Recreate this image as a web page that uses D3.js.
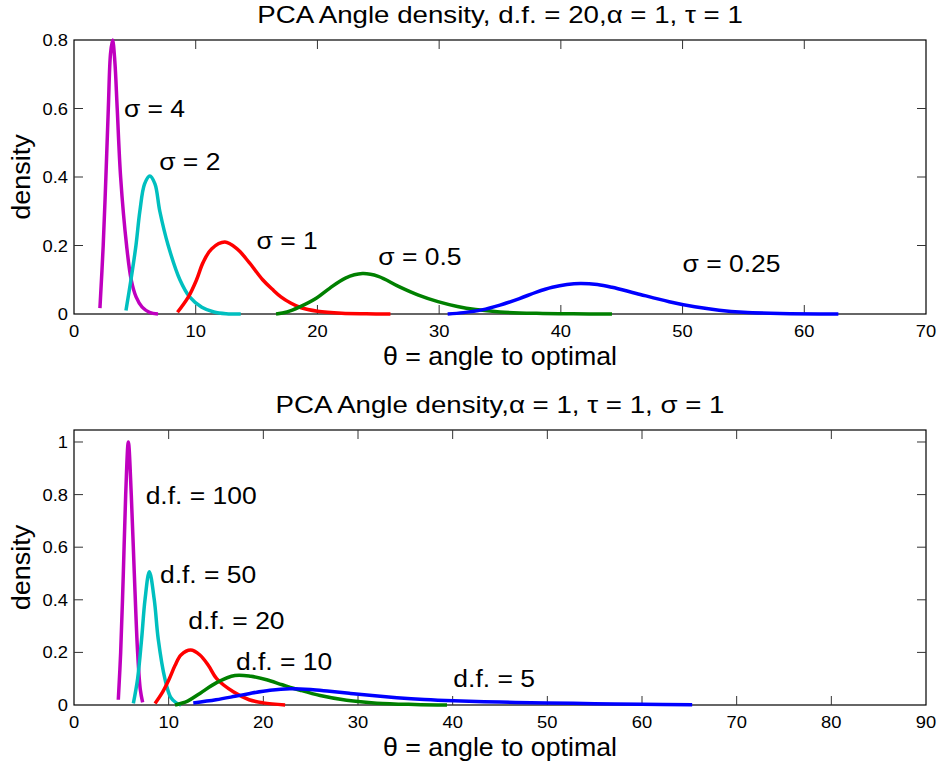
<!DOCTYPE html>
<html lang="en">
<meta charset="utf-8">
<head>
    <title>PCA Angle density</title>
    <script src="https://d3js.org/d3.v7.min.js"></script>
    <style>
        body { margin: 0; background: #fff; }
        text { font-family: "Liberation Sans", Arial, sans-serif; fill: #000; }
    </style>
</head>
<body>
<div id="chart"></div>
<script>
    // ---- data: [theta, density] ----
    // top panel: d.f. = 20, sigma varies
    let sigma4 = [[2.13,0.017],[2.4,0.2],[2.62,0.4],[2.82,0.6],[3.0,0.76],[3.17,0.8],[3.35,0.74],[3.55,0.6],[3.83,0.4],[4.32,0.2],[4.7,0.1],[5.1,0.05],[5.6,0.02],[6.2,0.005],[6.9,0.0]];
    let sigma2 = [[4.27,0.01],[4.68,0.1],[5.09,0.2],[5.41,0.3],[5.8,0.38],[6.23,0.403],[6.65,0.38],[7.05,0.3],[7.74,0.2],[8.7,0.1],[9.5,0.05],[10.5,0.02],[11.5,0.006],[12.5,0.001],[13.7,0]];
    let sigma1 = [[8.5,0.005],[9.4,0.05],[10.07,0.1],[10.6,0.15],[11.3,0.19],[12.4,0.21],[13.4,0.19],[14.4,0.15],[15.5,0.1],[16.3,0.072],[17.0,0.05],[17.8,0.032],[18.6,0.019],[20,0.008],[22,0.002],[24,0.0005],[26,0]];
    let sigma05 = [[16.6,0],[17.5,0.006],[18.5,0.02],[19.9,0.046],[21.0,0.075],[22.3,0.105],[23.7,0.118],[25.0,0.11],[26.7,0.08],[28.3,0.055],[29.9,0.036],[31.5,0.022],[33.0,0.013],[35,0.006],[38,0.002],[41,0.0005],[44.2,0]];
    let sigma025 = [[30.7,0],[32,0.004],[33.5,0.012],[35.0,0.026],[36.6,0.045],[38,0.064],[39.3,0.078],[40.5,0.086],[41.6,0.089],[43,0.086],[44.2,0.078],[46.2,0.06],[48.9,0.036],[51,0.021],[53,0.011],[55,0.005],[58,0.0015],[62.8,0]];

    // bottom panel: sigma = 1, d.f. varies
    let df100 = [[4.68,0.02],[4.93,0.2],[5.21,0.5],[5.46,0.8],[5.74,1.0],[6.05,0.8],[6.37,0.5],[6.72,0.2],[7.0,0.06],[7.25,0.01]];
    let df50 = [[6.27,0.006],[6.72,0.1],[7.14,0.25],[7.5,0.4],[7.96,0.507],[8.48,0.4],[8.9,0.25],[9.6,0.1],[10.2,0.03],[10.8,0.008],[11.3,0]];
    let df20 = [[8.56,0.006],[9.37,0.05],[10.07,0.1],[10.67,0.15],[11.3,0.19],[12.33,0.209],[13.3,0.19],[14.2,0.15],[15.07,0.1],[16.83,0.05],[18.5,0.02],[20,0.008],[22.3,0]];
    let df10 = [[10.67,0],[12,0.015],[13.3,0.044],[15.07,0.085],[17.0,0.112],[18.7,0.109],[20.35,0.096],[22,0.077],[23.9,0.056],[26,0.036],[28.8,0.018],[32,0.007],[36,0.002],[39.4,0]];
    let df5 = [[12.6,0.008],[15,0.02],[17,0.033],[18.6,0.044],[20.7,0.056],[22.8,0.062],[25,0.059],[27,0.052],[29.2,0.044],[31.5,0.036],[34.1,0.028],[37,0.021],[40.1,0.016],[45,0.011],[49.9,0.008],[55,0.005],[60,0.003],[65.3,0.001]];

    // tick values
    let topXTicks = [0,10,20,30,40,50,60,70];
    let topYTicks = [0,0.2,0.4,0.6,0.8];
    let botXTicks = [0,10,20,30,40,50,60,70,80,90];
    let botYTicks = [0,0.2,0.4,0.6,0.8,1];

    // curve labels: [text, theta, density] (text anchored at start, baseline)
    let topLabels = [["σ = 4",4.1,0.574],["σ = 2",7.0,0.419],["σ = 1",15.0,0.191],["σ = 0.5",25.0,0.143],["σ = 0.25",50.0,0.123]];
    let botLabels = [["d.f. = 100",7.57,0.764],["d.f. = 50",9.08,0.465],["d.f. = 20",12.07,0.288],["d.f. = 10",17.1,0.133],["d.f. = 5",40.07,0.067]];

    let colors = ["#bf00bf","#00bfbf","#ff0000","#008000","#0000ff"];

    let W = 941, H = 766;
    let svg = d3.select("#chart").append("svg")
        .attr("width", W)
        .attr("height", H);

    // the original text is a bit wider than Liberation Sans, so stretch it sideways
    function wideText(g, x, y, str, size, sx, anchor, rot) {
        let t = "translate(" + x + "," + y + ")" + (rot ? " rotate(" + rot + ")" : "") + " scale(" + sx + ",1)";
        return g.append("text")
            .attr("transform", t)
            .attr("text-anchor", anchor || "start")
            .attr("font-size", size)
            .text(str);
    }

    function drawPanel(opt) {
        let x = d3.scaleLinear().domain(opt.xDomain).range([74, 926]);
        let y = d3.scaleLinear().domain(opt.yDomain).range([opt.bottom, opt.top]);
        let g = svg.append("g");
        let tl = 9;

        // frame
        g.append("rect")
            .attr("x", 74).attr("y", opt.top)
            .attr("width", 852).attr("height", opt.bottom - opt.top)
            .attr("fill", "none").attr("stroke", "#000").attr("stroke-width", 1.2);

        // inner ticks on all four sides
        let xt = opt.xTicks.filter(v => v > opt.xDomain[0] && v < opt.xDomain[1]);
        let yt = opt.yTicks.filter(v => v > opt.yDomain[0] && v < opt.yDomain[1]);
        g.selectAll(".xtb").data(xt).enter().append("line")
            .attr("x1", d => x(d)).attr("x2", d => x(d))
            .attr("y1", opt.bottom).attr("y2", opt.bottom - tl)
            .attr("stroke", "#333");
        g.selectAll(".xtt").data(xt).enter().append("line")
            .attr("x1", d => x(d)).attr("x2", d => x(d))
            .attr("y1", opt.top).attr("y2", opt.top + tl)
            .attr("stroke", "#333");
        g.selectAll(".ytl").data(yt).enter().append("line")
            .attr("x1", 74).attr("x2", 74 + tl)
            .attr("y1", d => y(d)).attr("y2", d => y(d))
            .attr("stroke", "#333");
        g.selectAll(".ytr").data(yt).enter().append("line")
            .attr("x1", 926).attr("x2", 926 - tl)
            .attr("y1", d => y(d)).attr("y2", d => y(d))
            .attr("stroke", "#333");

        // tick labels
        opt.xTicks.forEach(function(v) {
            wideText(g, x(v), opt.bottom + 23, v, 17, 1.08, "middle");
        });
        opt.yTicks.forEach(function(v) {
            wideText(g, 68, y(v) + 6, v, 17, 1.08, "end");
        });

        // curves
        let line = d3.line()
            .x(d => x(d[0]))
            .y(d => y(d[1]))
            .curve(d3.curveCatmullRom.alpha(0.5));
        opt.series.forEach(function(s, i) {
            g.append("path")
                .attr("d", line(s))
                .attr("fill", "none")
                .attr("stroke", colors[i])
                .attr("stroke-width", 3.5)
                .attr("stroke-linejoin", "round");
        });

        // labels on curves
        opt.labels.forEach(function(d) {
            wideText(g, x(d[1]), y(d[2]), d[0], 24.5, 1.08);
        });

        // titles
        wideText(g, 500, opt.top - 17, opt.title, 24.5, 1.13, "middle");
        wideText(g, 500, opt.bottom + 51, "θ = angle to optimal", 25, 1.07, "middle");
        wideText(g, 30, (opt.top + opt.bottom) / 2, "density", 25, 1.08, "middle", -90);
    }//drawPanel()

    drawPanel({
        top: 40, bottom: 314,
        xDomain: [0, 70], yDomain: [0, 0.8],
        xTicks: topXTicks, yTicks: topYTicks,
        series: [sigma4, sigma2, sigma1, sigma05, sigma025],
        labels: topLabels,
        title: "PCA Angle density, d.f. = 20,α = 1, τ = 1"
    });

    drawPanel({
        top: 430, bottom: 705,
        xDomain: [0, 90], yDomain: [0, 1.0456],
        xTicks: botXTicks, yTicks: botYTicks,
        series: [df100, df50, df20, df10, df5],
        labels: botLabels,
        title: "PCA Angle density,α = 1, τ = 1, σ = 1"
    });
</script>
</body>
</html>
